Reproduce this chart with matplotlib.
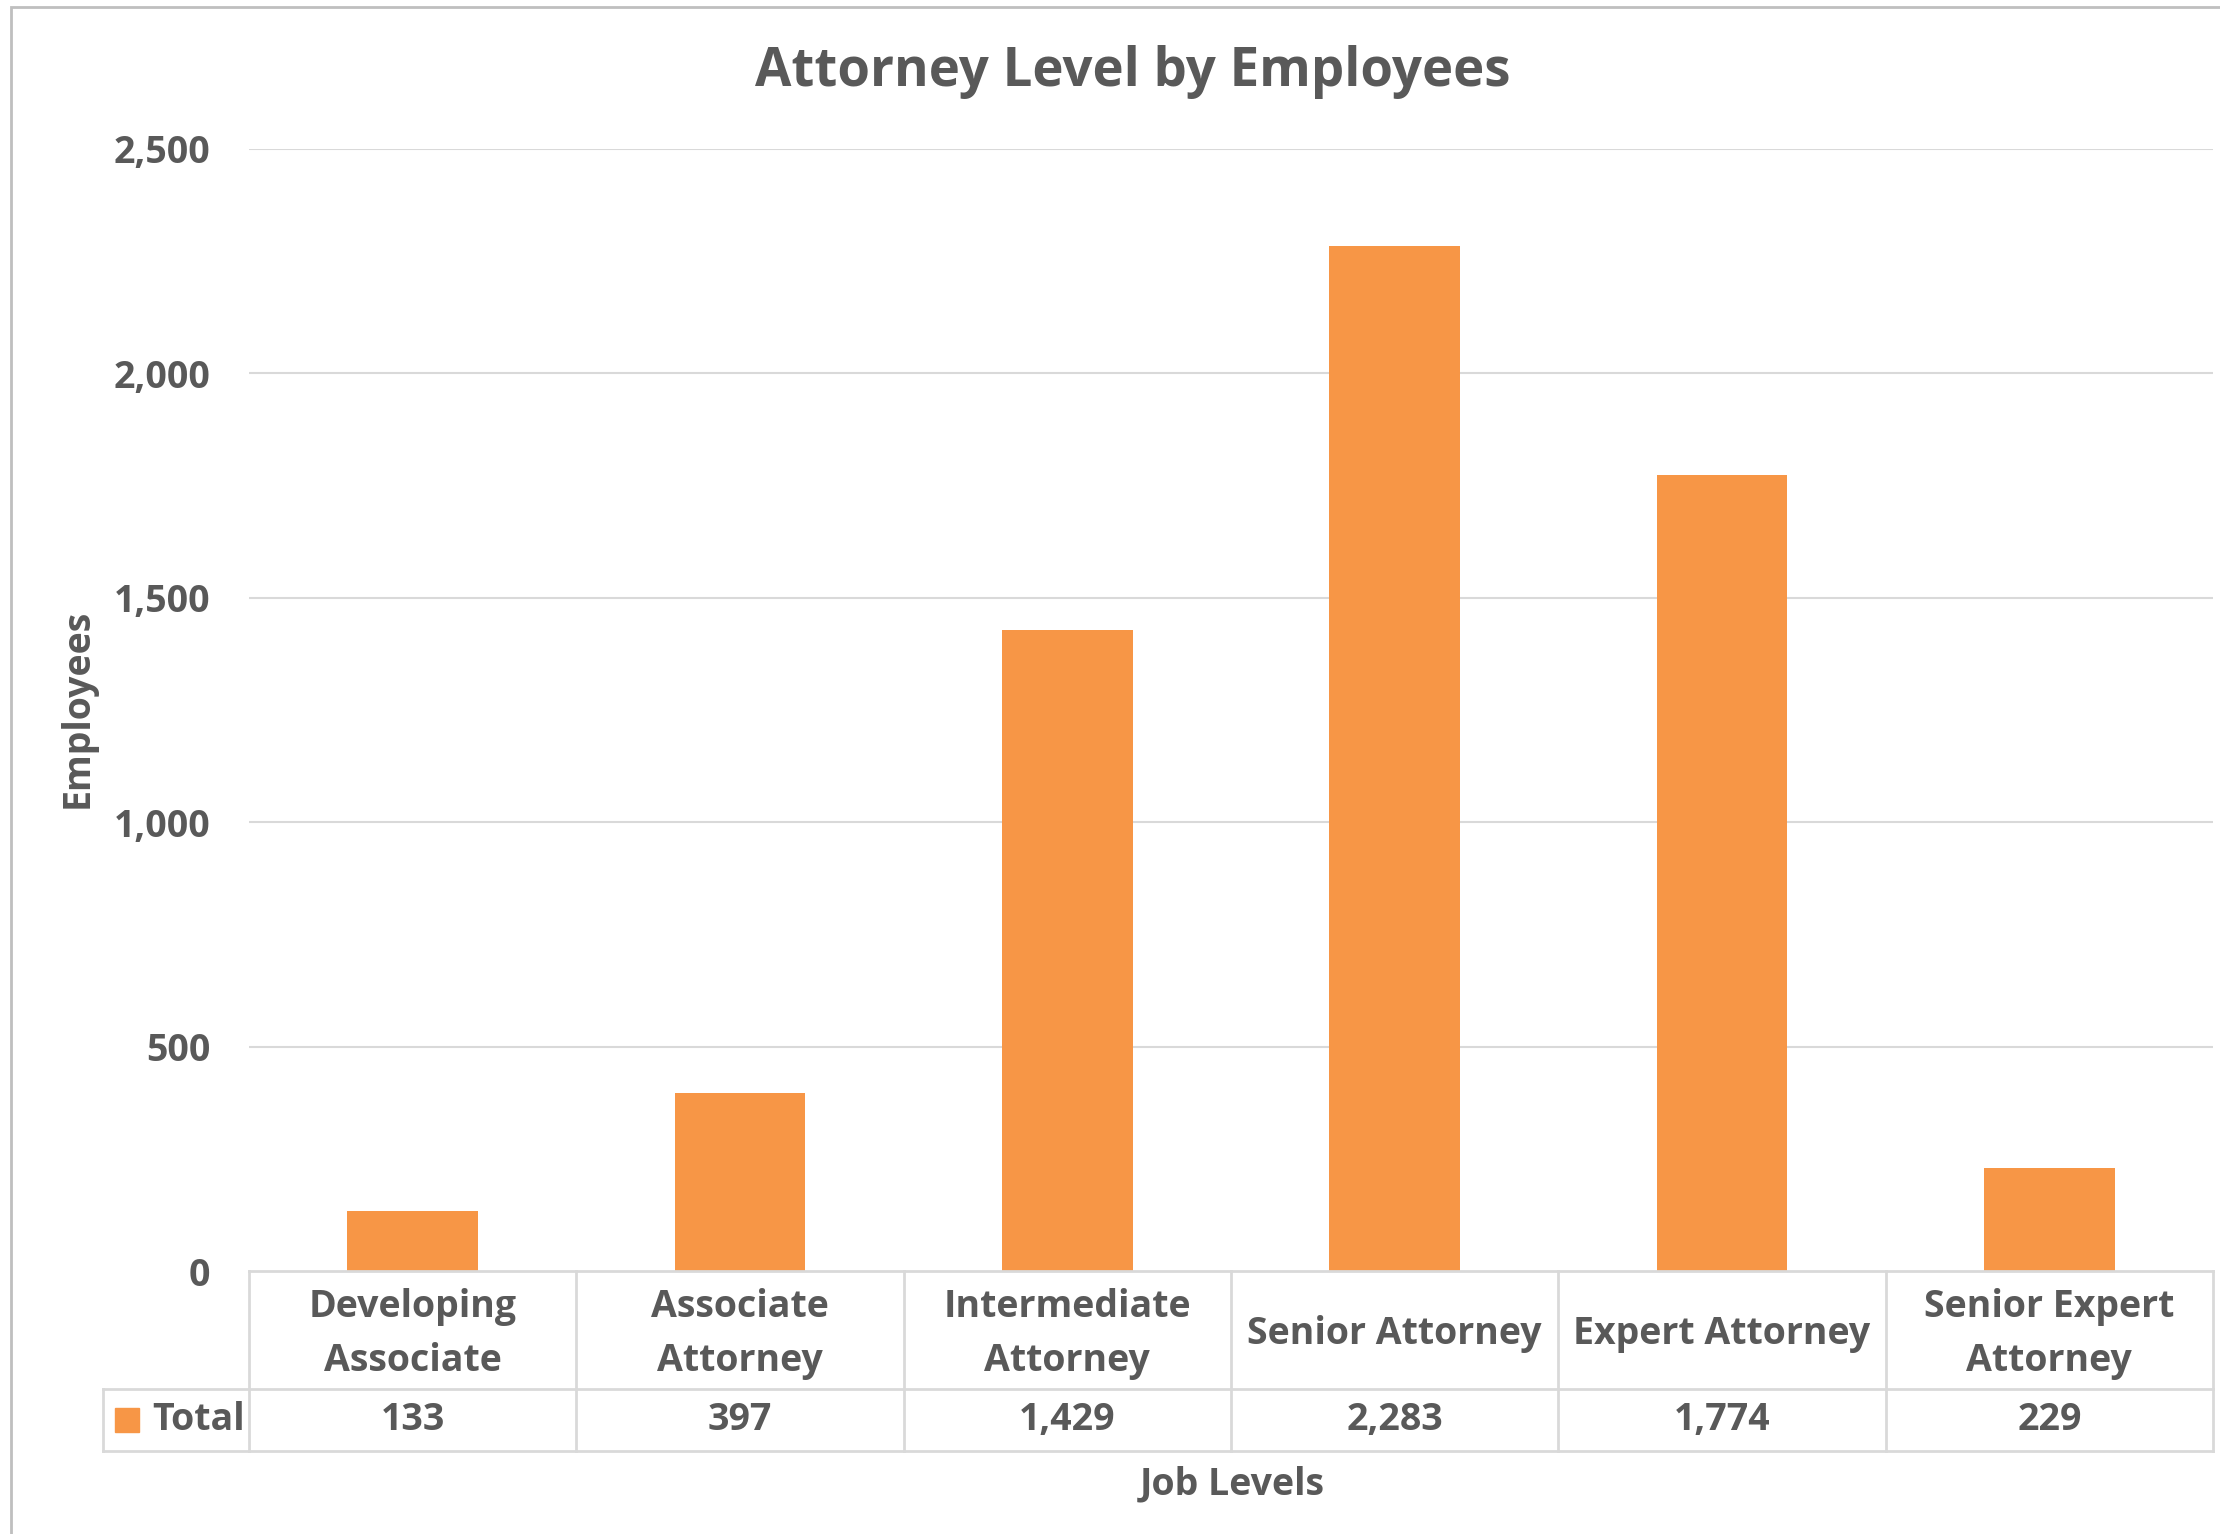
import matplotlib.pyplot as plt
from matplotlib.patches import Rectangle

# data
levels = ['Developing\nAssociate', 'Associate\nAttorney', 'Intermediate\nAttorney',
          'Senior Attorney', 'Expert Attorney', 'Senior Expert\nAttorney']
totals = [133, 397, 1429, 2283, 1774, 229]
yticks = [0, 500, 1000, 1500, 2000, 2500]

bar_color = '#F79646'
text_color = '#595959'
grid_color = '#D9D9D9'

plt.rcParams['font.family'] = ['Open Sans', 'DejaVu Sans']
plt.rcParams['font.weight'] = 'bold'

W, H = 2220, 1534
fig = plt.figure(figsize=(W / 100, H / 100), dpi=100)

def fx(px):  # pixel x -> figure fraction
    return px / W

def fy(py):  # pixel y (from top) -> figure fraction
    return 1 - py / H

# outer chart border
fig.patches.append(Rectangle((fx(11), -0.01), 1.02, fy(7) + 0.01, transform=fig.transFigure,
                             fill=False, edgecolor='#BFBFBF', lw=2))

# plot area
left, right, top, base, tab_bottom = 249, 2213, 149, 1271, 1451
ax = fig.add_axes([fx(left), fy(base), fx(right) - fx(left), fy(top) - fy(base)])
x = list(range(len(totals)))
ax.bar(x, totals, width=0.4, color=bar_color, zorder=3)
ax.set_xlim(-0.5, len(totals) - 0.5)
ax.set_ylim(0, 2500)
ax.set_yticks(yticks)
ax.set_yticklabels([f'{v:,}' for v in yticks], fontsize=27, color=text_color, fontweight='bold')
ax.tick_params(axis='y', length=0, pad=28)
ax.set_xticks([])
for s in ax.spines.values():
    s.set_visible(False)
for v in yticks[1:]:
    ax.axhline(v, color=grid_color, lw=1.5, zorder=1)

fig.text(fx(1133), fy(72), 'Attorney Level by Employees', ha='center', va='center',
         fontsize=38, color=text_color, fontweight='bold')
fig.text(fx(78), fy(708), 'Employees', ha='center', va='center', rotation=90,
         fontsize=27, color=text_color, fontweight='bold')

# data table below the plot
tab = fig.add_axes([fx(left), fy(tab_bottom), fx(right) - fx(left), fy(base) - fy(tab_bottom)])
tab.set_xlim(-0.5, len(totals) - 0.5)
tab.set_ylim(0, 1)
tab.axis('off')
col_w = (right - left) / len(totals)
x_left = -0.5 - (left - 103) / col_w
row_y = (tab_bottom - 1389) / (tab_bottom - base)
lc = dict(color=grid_color, lw=2, clip_on=False)
tab.plot([-0.5, len(totals) - 0.5], [1, 1], **lc)
tab.plot([x_left, len(totals) - 0.5], [row_y, row_y], **lc)
tab.plot([x_left, len(totals) - 0.5], [0, 0], **lc)
tab.plot([x_left, x_left], [0, row_y], **lc)
for i in range(len(totals) + 1):
    tab.plot([i - 0.5, i - 0.5], [0, 1], **lc)
cat_y = (1 + row_y) / 2 - 4 / (tab_bottom - base)
for i, (lab, val) in enumerate(zip(levels, totals)):
    tab.text(i, cat_y, lab, ha='center', va='center', fontsize=27,
             color=text_color, fontweight='bold', linespacing=1.55)
    tab.text(i, row_y / 2, f'{val:,}', ha='center', va='center', fontsize=27,
             color=text_color, fontweight='bold')
tab.plot([-0.5 - (left - 127) / col_w], [row_y / 2], marker='s', ms=17, color=bar_color,
         clip_on=False, linestyle='none')
tab.text(-0.5 - (left - 152) / col_w, row_y / 2, 'Total', ha='left', va='center',
         fontsize=27, color=text_color, fontweight='bold')

fig.text(fx(1232), fy(1484), 'Job Levels', ha='center', va='center', fontsize=27,
         color=text_color, fontweight='bold')

fig.savefig('out.png', dpi=100)
